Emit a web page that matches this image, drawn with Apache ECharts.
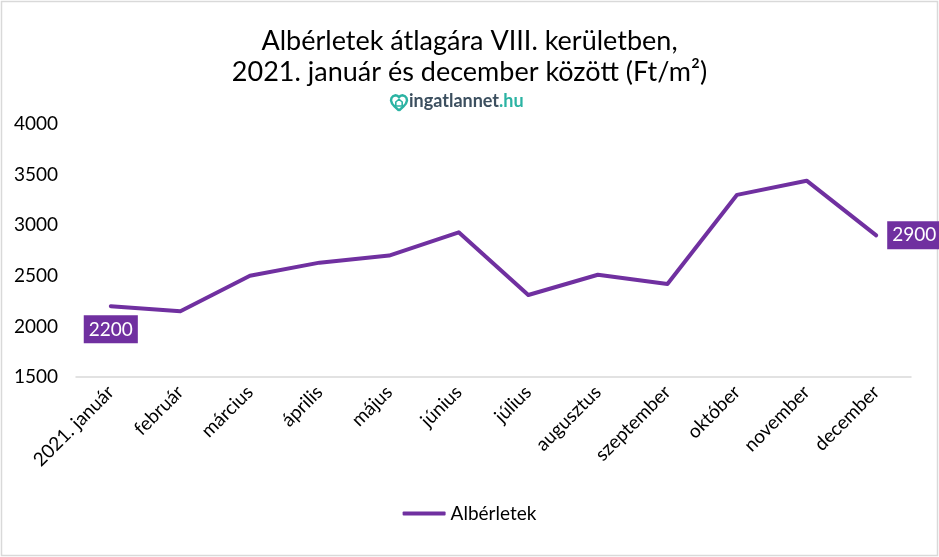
<!DOCTYPE html>
<html>
<head>
<meta charset="utf-8">
<script src="https://cdn.jsdelivr.net/npm/echarts@6/dist/echarts.min.js"></script>
<style>html,body{margin:0;padding:0;background:#fff}#c{width:939px;height:557px}</style>
</head>
<body>
<div id="c"></div>
<script>
const categories = ['2021. január','február','március','április','május','június','július','augusztus','szeptember','október','november','december'];
const values = [2200, 2150, 2500, 2630, 2700, 2930, 2310, 2510, 2420, 3300, 3440, 2900];
const seriesName = 'Albérletek';
const yTicks = { min: 1500, max: 4000, interval: 500 };
const titleLines = ['Albérletek átlagára VIII. kerületben,', '2021. január és december között (Ft/m²)'];

const FONT = 'Lato, "Open Sans", sans-serif';
const PURPLE = '#7030a0';
const TEAL = '#2bb3a3';

const labelBase = {
  show: true, color: '#fff', backgroundColor: PURPLE, fontFamily: FONT,
  fontSize: 19, padding: [5, 5, 4, 5], formatter: p => String(p.value)
};
const seriesData = values.map((v, i) => {
  if (i === 0) return { value: v, label: Object.assign({}, labelBase, { position: 'bottom', distance: 9 }) };
  if (i === values.length - 1) return { value: v, label: Object.assign({}, labelBase, { position: 'right', distance: 11 }) };
  return { value: v };
});

const heart = [[8,15.5],[3.5,11.5],[1,8.5],[0,5.5],[0.5,3],[2,1.2],[4.5,0.3],[6.5,0.8],[8,2.2],[9.5,0.8],[11.5,0.3],[14,1.2],[15.5,3],[16,5.5],[15,8.5],[12.5,11.5],[8,15.5]];
const house = [[4.8,11],[4.8,7],[8,4.2],[11.2,7],[11.2,11],[4.8,11]];

const chart = echarts.init(document.getElementById('c'), null, { renderer: 'canvas' });
chart.setOption({
  backgroundColor: '#fff',
  animation: false,
  title: {
    text: titleLines.join('\n'),
    left: 'center', top: 21,
    textStyle: { fontFamily: FONT, fontSize: 27, fontWeight: 'normal', color: '#000', lineHeight: 31 }
  },
  graphic: [
    { type: 'rect', shape: { x: 1.5, y: 1.5, width: 936, height: 554 }, style: { fill: 'none', stroke: '#d9d9d9', lineWidth: 1.5 }, silent: true },
    { type: 'polyline', x: 391, y: 95, shape: { points: heart }, style: { fill: 'none', stroke: TEAL, lineWidth: 2.4 } },
    { type: 'polyline', x: 391, y: 95, shape: { points: house }, style: { fill: 'none', stroke: TEAL, lineWidth: 1.6 } },
    { type: 'text', x: 409, y: 92, style: {
      text: '{a|ingatlannet}{b|.hu}',
      rich: {
        a: { fontFamily: FONT, fontSize: 18, fontWeight: 'bold', fill: '#3c4f5f' },
        b: { fontFamily: FONT, fontSize: 18, fontWeight: 'bold', fill: TEAL }
      }
    }}
  ],
  legend: {
    bottom: 29, left: 'center',
    data: [{ name: seriesName, icon: 'roundRect' }],
    itemWidth: 43, itemHeight: 4, itemGap: 10,
    textStyle: { fontFamily: FONT, fontSize: 19, color: '#000' }
  },
  grid: { left: 76, right: 28, top: 124, bottom: 180, containLabel: false },
  xAxis: {
    type: 'category', data: categories, boundaryGap: true,
    axisLine: { show: true, lineStyle: { color: '#d9d9d9', width: 1.5 } },
    axisTick: { show: false },
    axisLabel: { rotate: 45, margin: 12, interval: 0, fontFamily: FONT, fontSize: 19, color: '#000' }
  },
  yAxis: {
    type: 'value', min: yTicks.min, max: yTicks.max, interval: yTicks.interval,
    axisLine: { show: false }, axisTick: { show: false },
    splitLine: { show: false },
    axisLabel: { margin: 18, fontFamily: FONT, fontSize: 19, color: '#000', formatter: v => String(v) }
  },
  series: [{
    name: seriesName, type: 'line', data: seriesData,
    symbol: 'circle', symbolSize: 0, showSymbol: true,
    lineStyle: { color: PURPLE, width: 4, cap: 'round', join: 'round' },
    itemStyle: { color: PURPLE }
  }]
});
</script>
</body>
</html>
